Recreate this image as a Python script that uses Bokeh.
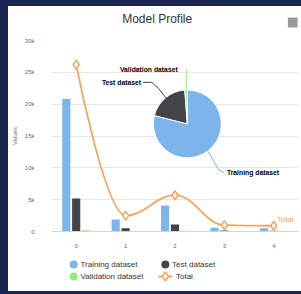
import math
from bokeh.plotting import figure
from bokeh.layouts import column
from bokeh.models import Range1d, FixedTicker, GlobalInlineStyleSheet
from bokeh.core.properties import value
from bokeh.embed import file_html
from bokeh.resources import INLINE

# ---------------- data ----------------
categories = ["0", "1", "2", "3", "4"]
training = [20800, 1900, 4100, 600, 500]
test = [5200, 500, 1100, 150, 120]
validation = [200, 60, 100, 40, 30]
total = [26200, 2500, 5700, 1000, 900]

pie_labels = ["Training dataset", "Test dataset", "Validation dataset"]
pie_values = [28100, 7070, 430]

y_ticks = [0, 5000, 10000, 15000, 20000, 25000, 30000]
y_tick_labels = ["0", "5k", "10k", "15k", "20k", "25k", "30k"]

legend_labels = ["Training dataset", "Test dataset", "Validation dataset", "Total"]
chart_title = "Model Profile"

# ---------------- style ----------------
FONT = "Liberation Sans"
C_TRAIN, C_TEST, C_VAL, C_TOT = "#7cb5ec", "#434348", "#90ed7d", "#f7a35c"
W = 293
H_HEAD, H_MAIN, H_LEG = 26, 218, 41
FRAME_L, FRAME_R, FRAME_T, FRAME_B = 34, 3, 8, 17
PX_X = 5.0 / (W - FRAME_L - FRAME_R)            # data units per pixel (x)
PX_Y = 30000.0 / (H_MAIN - FRAME_T - FRAME_B)   # data units per pixel (y)


def blank_fig(h):
    # same side borders as the main chart so the column keeps frames aligned;
    # x range expressed in canvas pixels
    f = figure(width=W, height=h, output_backend="svg", toolbar_location=None,
               x_range=Range1d(FRAME_L, W - FRAME_R), y_range=Range1d(h, 0),
               x_axis_type=None, y_axis_type=None,
               min_border_left=FRAME_L, min_border_right=FRAME_R,
               min_border_top=0, min_border_bottom=0,
               outline_line_color=None,
               background_fill_color="white", border_fill_color="white")
    f.grid.visible = False
    return f


# ---------------- header (title + menu) ----------------
head = blank_fig(H_HEAD)
head.text(x=[143.5], y=[12], text=[chart_title], text_font=value(FONT),
          text_font_size="12px", text_color="#333333",
          text_align="center", text_baseline="middle")
head.rect(x=[284], y=[16], width=10, height=10, fill_color="#9a9a9a",
          line_color=None)

# ---------------- main chart ----------------
p = figure(width=W, height=H_MAIN, output_backend="svg", toolbar_location=None,
           x_range=Range1d(-0.5, 4.5), y_range=Range1d(0, 30000),
           min_border_left=FRAME_L, min_border_right=FRAME_R,
           min_border_top=FRAME_T, min_border_bottom=FRAME_B,
           background_fill_color="white", border_fill_color="white",
           outline_line_color=None)

p.xaxis.ticker = FixedTicker(ticks=list(range(len(categories))))
p.xaxis.major_label_overrides = {i: c for i, c in enumerate(categories)}
p.yaxis.ticker = FixedTicker(ticks=y_ticks)
p.yaxis.major_label_overrides = {t: l for t, l in zip(y_ticks, y_tick_labels)}
for ax in (p.xaxis, p.yaxis):
    ax.major_label_text_font = FONT
    ax.major_label_text_font_size = "6px"
    ax.major_label_text_color = "#666666"
    ax.major_tick_line_color = None
    ax.minor_tick_line_color = None
p.xaxis.axis_line_color = "#ccd6eb"
p.xaxis.major_label_standoff = 6
p.yaxis.axis_line_color = None
p.yaxis.major_label_standoff = 11
p.yaxis.axis_label = "Values"
p.yaxis.axis_label_text_font = FONT
p.yaxis.axis_label_text_font_size = "6px"
p.yaxis.axis_label_text_font_style = "normal"
p.yaxis.axis_label_text_color = "#666666"
p.yaxis.axis_label_standoff = 4
p.xgrid.grid_line_color = None
p.ygrid.grid_line_color = "#e6e6e6"

xs = list(range(len(categories)))
bw = 0.165
p.vbar(x=[x - 0.2 for x in xs], top=training, width=bw, color=C_TRAIN, line_color=None)
p.vbar(x=xs, top=test, width=bw, color=C_TEST, line_color=None)
p.vbar(x=[x + 0.2 for x in xs], top=validation, width=bw, color=C_VAL, line_color=None)


def spline_segments(px, py, smoothing=1.5):
    """Highcharts-style spline control points."""
    n = len(px)
    denom = smoothing + 1
    rc = [None] * n
    lc = [None] * n
    for i in range(1, n - 1):
        lx = (smoothing * px[i] + px[i - 1]) / denom
        ly = (smoothing * py[i] + py[i - 1]) / denom
        rx = (smoothing * px[i] + px[i + 1]) / denom
        ry = (smoothing * py[i] + py[i + 1]) / denom
        corr = ((ry - ly) * (rx - px[i])) / (rx - lx) + py[i] - ry
        ly += corr
        ry += corr
        if ly > py[i - 1] and ly > py[i]:
            ly = max(py[i - 1], py[i]); ry = 2 * py[i] - ly
        elif ly < py[i - 1] and ly < py[i]:
            ly = min(py[i - 1], py[i]); ry = 2 * py[i] - ly
        if ry > py[i + 1] and ry > py[i]:
            ry = max(py[i + 1], py[i]); ly = 2 * py[i] - ry
        elif ry < py[i + 1] and ry < py[i]:
            ry = min(py[i + 1], py[i]); ly = 2 * py[i] - ry
        lc[i] = (lx, ly)
        rc[i] = (rx, ry)
    segs = dict(x0=[], y0=[], x1=[], y1=[], cx0=[], cy0=[], cx1=[], cy1=[])
    for i in range(1, n):
        a = rc[i - 1] or (px[i - 1], py[i - 1])
        b = lc[i] or (px[i], py[i])
        segs["x0"].append(px[i - 1]); segs["y0"].append(py[i - 1])
        segs["x1"].append(px[i]); segs["y1"].append(py[i])
        segs["cx0"].append(a[0]); segs["cy0"].append(a[1])
        segs["cx1"].append(b[0]); segs["cy1"].append(b[1])
    return segs


p.bezier(**spline_segments(xs, total), line_color=C_TOT, line_width=1.8)
p.scatter(xs, total, marker="diamond", size=9, fill_color="white",
          line_color=C_TOT, line_width=1.5)
p.text(x=[xs[-1] + 3 * PX_X], y=[total[-1] + 6 * PX_Y], text=["Total"],
       text_font=value(FONT), text_font_size="8px", text_color=C_TOT,
       text_align="left", text_baseline="middle")

# pie
PIE_CX, PIE_CY, PIE_R = 2.25, 16900, 34
tot = sum(pie_values)
cum = 0.0
mids = []
for val, col in zip(pie_values, [C_TRAIN, C_TEST, C_VAL]):
    a0 = math.pi / 2 - 2 * math.pi * cum / tot
    a1 = math.pi / 2 - 2 * math.pi * (cum + val) / tot
    p.wedge(x=[PIE_CX], y=[PIE_CY], radius=PIE_R, radius_units="screen",
            start_angle=a0, end_angle=a1, direction="clock",
            fill_color=col, line_color="white", line_width=1)
    mids.append((a0 + a1) / 2)
    cum += val


def pt(dx, dy):
    return PIE_CX + dx * PX_X, PIE_CY - dy * PX_Y


label_specs = [
    ((41, 49), "left", [(33, 47), (38, 49)]),
    ((-48, -42), "right", [(-30, -36), (-37, -42), (-46, -42)]),
    ((-10, -55), "right", [(-1, -55)]),
]
for k, (lab, mid, col) in enumerate(zip(pie_labels, mids, [C_TRAIN, C_TEST, C_VAL])):
    anchor, align, bends = label_specs[k]
    ex, ey = PIE_R * math.cos(mid), -PIE_R * math.sin(mid)
    lx, ly = zip(*[pt(*q) for q in [(ex, ey)] + bends])
    p.line(list(lx), list(ly), line_color=col, line_width=1)
    ax_, ay_ = pt(*anchor)
    p.text(x=[ax_], y=[ay_], text=[lab], text_font=value(FONT),
           text_font_size="6.8px", text_font_style="bold", text_color="#000000",
           text_align=align, text_baseline="middle")

# ---------------- legend ----------------
leg = blank_fig(H_LEG)
col_x = [57, 152, 57, 152]
row_y = [14, 14, 26, 26]
leg.scatter(x=col_x[:3], y=row_y[:3], marker="circle", size=8,
            color=[C_TRAIN, C_TEST, C_VAL], line_color=None)
leg.line(x=[col_x[3] - 7, col_x[3] + 7], y=[row_y[3]] * 2, line_color=C_TOT, line_width=1.8)
leg.scatter(x=[col_x[3]], y=[row_y[3]], marker="diamond", size=9,
            fill_color="white", line_color=C_TOT, line_width=1.5)
leg.text(x=[c + 7 if i < 3 else c + 11 for i, c in enumerate(col_x)], y=row_y,
         text=legend_labels, text_font=value(FONT), text_font_size="8px",
         text_color="#333333", text_align="left", text_baseline="middle")

layout = column(head, p, leg, spacing=0, styles={"background-color": "white"})
layout.stylesheets = [GlobalInlineStyleSheet(css="body{background-color:#1b2552;margin:6px 0 0 8px;}")]

open("out.html", "w").write(file_html(layout, INLINE))
